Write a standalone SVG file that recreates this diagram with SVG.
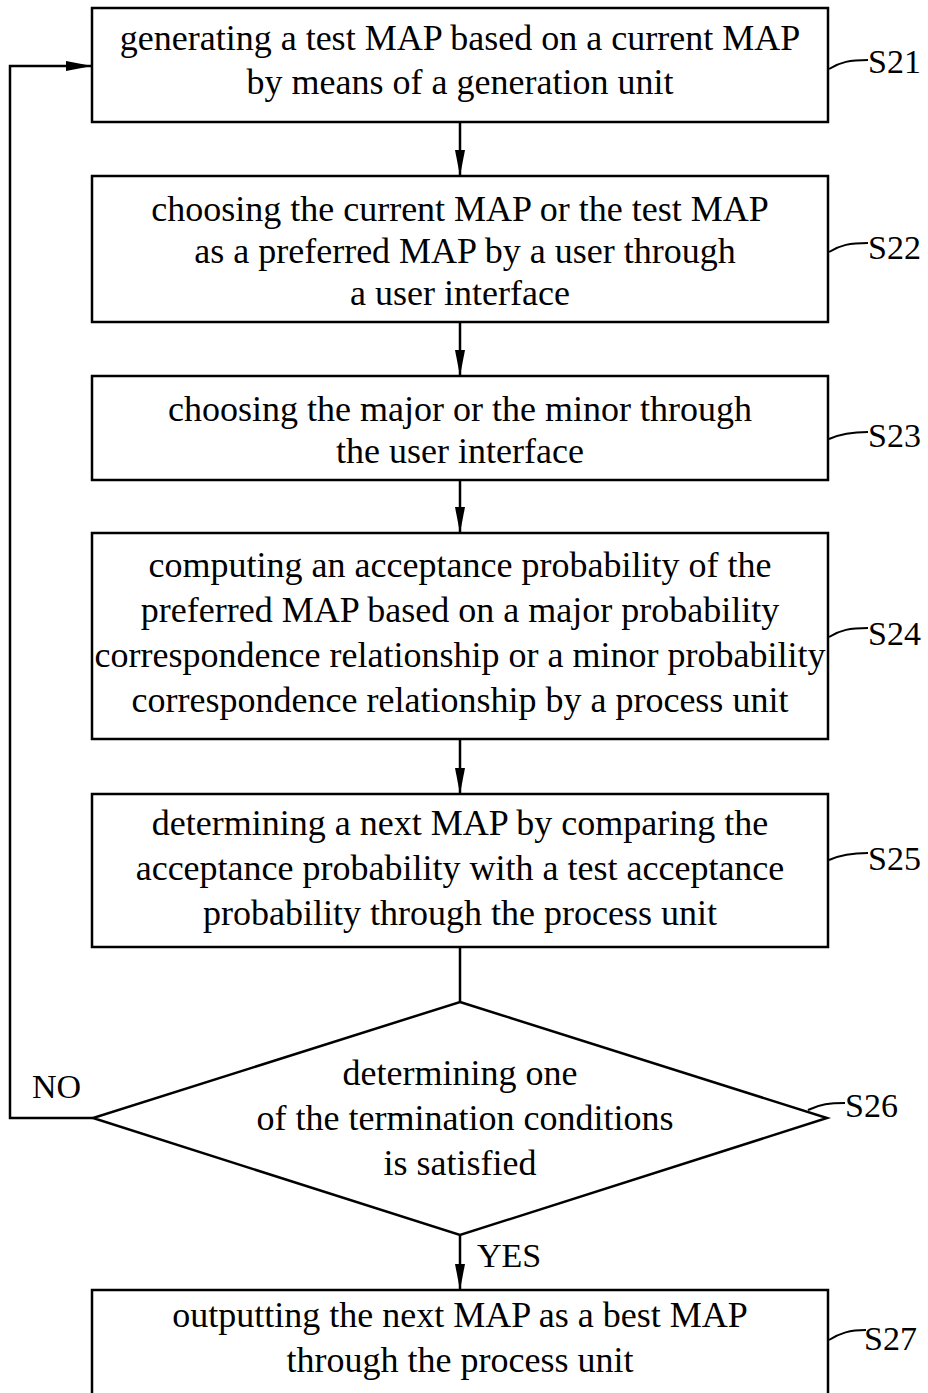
<svg xmlns="http://www.w3.org/2000/svg" width="928" height="1393" viewBox="0 0 928 1393">
<style>
.box{fill:#fff;stroke:#000;stroke-width:2.5}
.t{font-family:"Liberation Serif","Times New Roman",serif;font-size:36px;fill:#000;text-anchor:middle}
.lbl{font-family:"Liberation Serif","Times New Roman",serif;font-size:34px;fill:#000}
.ln{fill:none;stroke:#000;stroke-width:2.5}
.ld{fill:none;stroke:#000;stroke-width:2}
</style>
<defs>
<marker id="ah" markerUnits="userSpaceOnUse" markerWidth="26" markerHeight="10" refX="26" refY="5" orient="auto">
<path d="M0,0 L26,5 L0,10 z" fill="#000"/>
</marker>
</defs>
<rect width="928" height="1393" fill="#fff"/>
<g id="connectors">
<line class="ln" x1="460" y1="122" x2="460" y2="176" marker-end="url(#ah)"/>
<line class="ln" x1="460" y1="322" x2="460" y2="376" marker-end="url(#ah)"/>
<line class="ln" x1="460" y1="480" x2="460" y2="533" marker-end="url(#ah)"/>
<line class="ln" x1="460" y1="739" x2="460" y2="794" marker-end="url(#ah)"/>
<line class="ln" x1="460" y1="947" x2="460" y2="1002"/>
<line class="ln" x1="460" y1="1235" x2="460" y2="1290" marker-end="url(#ah)"/>
<polyline class="ln" points="93,1118 10,1118 10,66 92,66" marker-end="url(#ah)"/>
<text class="lbl" x="32" y="1098">NO</text>
<text class="lbl" x="477" y="1267">YES</text>
</g>
<g id="S21">
<rect class="box" x="92" y="8" width="736" height="114"/>
<text class="t" x="460" y="50">generating a test MAP based on a current MAP</text>
<text class="t" x="460" y="94">by means of a generation unit</text>
<path class="ld" d="M829,69 C840,62 850,60 868,60"/>
<text class="lbl" x="868" y="73">S21</text>
</g>
<g id="S22">
<rect class="box" x="92" y="176" width="736" height="146"/>
<text class="t" x="460" y="221">choosing the current MAP or the test MAP</text>
<text class="t" x="465" y="263">as a preferred MAP by a user through</text>
<text class="t" x="460" y="305">a user interface</text>
<path class="ld" d="M829,252 C840,245 850,243 868,243"/>
<text class="lbl" x="868" y="259">S22</text>
</g>
<g id="S23">
<rect class="box" x="92" y="376" width="736" height="104"/>
<text class="t" x="460" y="421">choosing the major or the minor through</text>
<text class="t" x="460" y="463">the user interface</text>
<path class="ld" d="M829,439 C840,434 850,432 868,432"/>
<text class="lbl" x="868" y="447">S23</text>
</g>
<g id="S24">
<rect class="box" x="92" y="533" width="736" height="206"/>
<text class="t" x="460" y="577">computing an acceptance probability of the</text>
<text class="t" x="460" y="622">preferred MAP based on a major probability</text>
<text class="t" x="460" y="667">correspondence relationship or a minor probability</text>
<text class="t" x="460" y="712">correspondence relationship by a process unit</text>
<path class="ld" d="M829,637 C840,630 850,628 868,628"/>
<text class="lbl" x="868" y="645">S24</text>
</g>
<g id="S25">
<rect class="box" x="92" y="794" width="736" height="153"/>
<text class="t" x="460" y="835">determining a next MAP by comparing the</text>
<text class="t" x="460" y="880">acceptance probability with a test acceptance</text>
<text class="t" x="460" y="925">probability through the process unit</text>
<path class="ld" d="M829,860 C840,855 850,853 868,853"/>
<text class="lbl" x="868" y="870">S25</text>
</g>
<g id="S26">
<polygon class="box" points="460,1002 827,1118 460,1235 93,1118"/>
<text class="t" x="460" y="1085">determining one</text>
<text class="t" x="465" y="1130">of the termination conditions</text>
<text class="t" x="460" y="1175">is satisfied</text>
<path class="ld" d="M808,1110 C820,1104 830,1103 845,1103"/>
<text class="lbl" x="845" y="1117">S26</text>
</g>
<g id="S27">
<rect class="box" x="92" y="1290" width="736" height="110"/>
<text class="t" x="460" y="1327">outputting the next MAP as a best MAP</text>
<text class="t" x="460" y="1372">through the process unit</text>
<path class="ld" d="M829,1340 C840,1333 850,1330 866,1330"/>
<text class="lbl" x="864" y="1350">S27</text>
</g>
</svg>
